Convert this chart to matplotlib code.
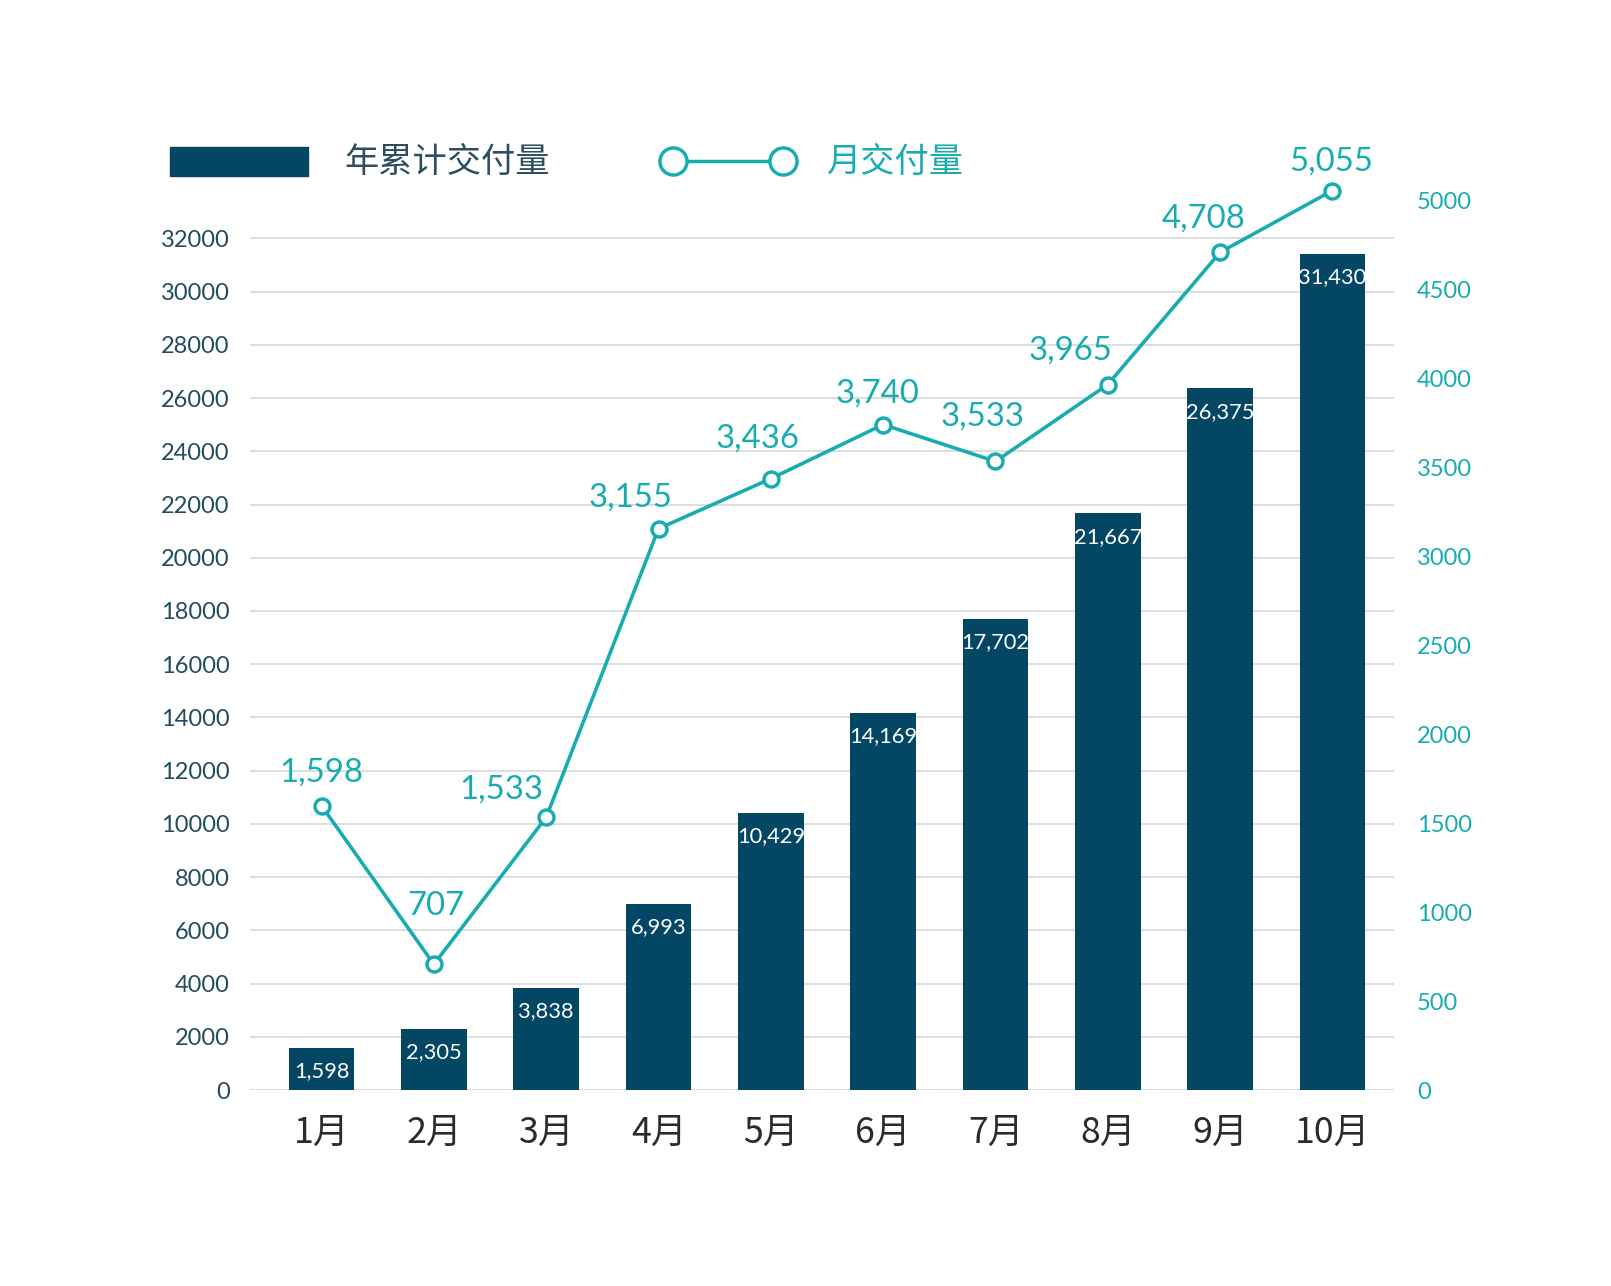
import matplotlib
matplotlib.use("Agg")
import matplotlib.pyplot as plt
from matplotlib.patches import Rectangle
from matplotlib.lines import Line2D

months = ["1月", "2月", "3月", "4月", "5月", "6月", "7月", "8月", "9月", "10月"]
cumulative = [1598, 2305, 3838, 6993, 10429, 14169, 17702, 21667, 26375, 31430]
monthly = [1598, 707, 1533, 3155, 3436, 3740, 3533, 3965, 4708, 5055]
left_ticks = list(range(0, 32001, 2000))
right_ticks = list(range(0, 5001, 500))

DARK = "#034765"
TEAL = "#17ACAF"
TICK_DARK = "#234B5E"
GRID = "#D5D8DA"

plt.rcParams['font.family'] = ['Lato', 'Noto Sans CJK SC', 'DejaVu Sans']
CJK = ['Noto Sans CJK SC', 'DejaVu Sans']

W, H = 1611, 1286
S = 1611 / 1568.0          # measurements taken on a 1568-wide view
def fx(v): return v * S / W
def fy(v): return 1 - v * S / H

fig = plt.figure(figsize=(W/100, H/100), dpi=100)
ax = fig.add_axes([fx(243), fy(1061), fx(1357) - fx(243), fy(150) - fy(1061)])
ax2 = ax.twinx()

L_TOP = (1061-150)/(1061-232)*32000
R_TOP = (1061-150)/(1061-195)*5000
ax.set_ylim(0, L_TOP)
ax2.set_ylim(0, R_TOP)
x = list(range(len(months)))
ax.set_xlim(-0.64, 9.55)

ax.set_yticks(left_ticks)
ax.yaxis.grid(True, color=GRID, linewidth=1.2)
ax.set_axisbelow(True)
ax2.set_yticks(right_ticks)
for a in (ax, ax2):
    for s in a.spines.values():
        s.set_visible(False)
ax.tick_params(axis='y', length=0, pad=14*S, labelsize=16.6*S, labelcolor=TICK_DARK)
ax2.tick_params(axis='y', length=0, pad=16*S, labelsize=16.6*S, labelcolor=TEAL)
ax.tick_params(axis='x', length=0, pad=17*S)
ax.set_xticks(x)
ax.set_xticklabels(months, fontsize=25*S, color="#2B2B2B", family=CJK)

bars = ax.bar(x, cumulative, width=0.585, color=DARK, zorder=2)
for xi, v in zip(x, cumulative):
    ax.annotate(f"{v:,}", (xi, v), xytext=(0, -16.5*S), textcoords='offset points',
                ha='center', va='center', color='white', fontsize=15.3*S)

ax2.plot(x, monthly, color=TEAL, linewidth=2.5*S, marker='o', markersize=10.5*S,
         markerfacecolor='white', markeredgecolor=TEAL, markeredgewidth=2.4*S, zorder=5)
label_dx = [0, 2, -44, -27, -13, -6, -13, -36, -16, -1]
label_dy = [32, 57, 27, 30, 39, 30, 44, 33, 33, 28]
for xi, v, dx, dy in zip(x, monthly, label_dx, label_dy):
    ax2.annotate(f"{v:,}", (xi, v), xytext=(dx*0.72*S, dy*0.72*S), textcoords='offset points',
                 ha='center', va='center', color=TEAL, fontsize=23*S)

# legend
fig.patches.append(Rectangle((fx(165), fy(171)), fx(300) - fx(165), fy(143) - fy(171),
                             transform=fig.transFigure, color=DARK))
fig.text(fx(335), fy(158), "年累计交付量", fontsize=24*S, color="#2B4F60",
         va='center', ha='left', family=CJK, fontweight='light')
fig.lines.append(Line2D([fx(655), fx(762)], [fy(157), fy(157)],
                        transform=fig.transFigure, color=TEAL, linewidth=2.4*S,
                        marker='o', markersize=19*S, markerfacecolor='white',
                        markeredgecolor=TEAL, markeredgewidth=2.4*S))
fig.text(fx(805), fy(158), "月交付量", fontsize=24*S, color=TEAL,
         va='center', ha='left', family=CJK, fontweight='light')

fig.savefig("out.png", dpi=100, facecolor='white')
